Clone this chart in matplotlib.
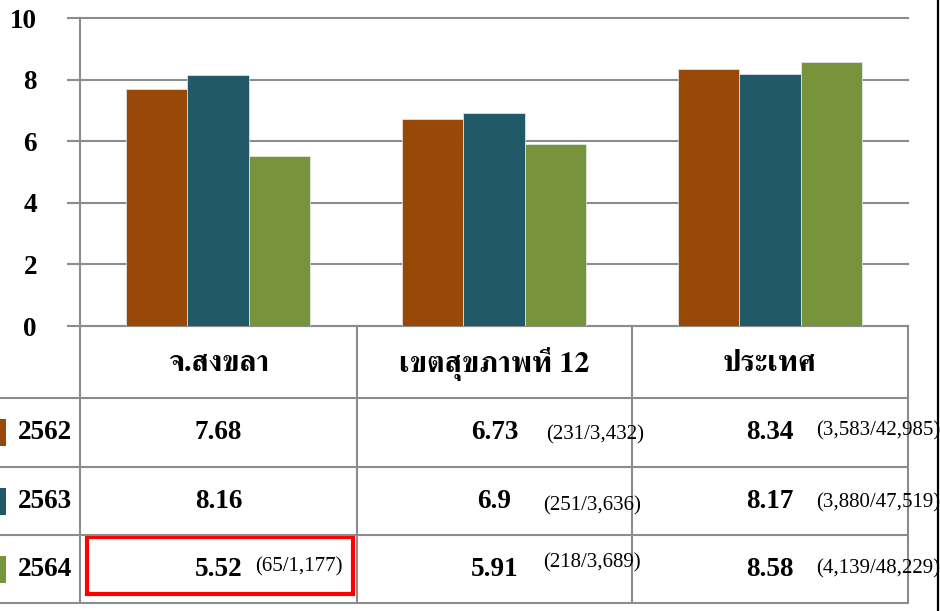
import matplotlib
matplotlib.use("Agg")
import matplotlib.pyplot as plt
from matplotlib import font_manager
from matplotlib.ft2font import FT2Font
from matplotlib.patches import Rectangle

# ---- data -------------------------------------------------------------
categories = ["จ.สงขลา", "เขตสุขภาพที่ 12", "ประเทศ"]
years = ["2562", "2563", "2564"]
rates_2562 = [7.68, 6.73, 8.34]
rates_2563 = [8.16, 6.9, 8.17]
rates_2564 = [5.52, 5.91, 8.58]
counts_2562 = ["", "(231/3,432)", "(3,583/42,985)"]
counts_2563 = ["", "(251/3,636)", "(3,880/47,519)"]
counts_2564 = ["(65/1,177)", "(218/3,689)", "(4,139/48,229)"]
yticks = [0, 2, 4, 6, 8, 10]

series = [rates_2562, rates_2563, rates_2564]
counts = [counts_2562, counts_2563, counts_2564]
colors = ["#984807", "#215968", "#77933C"]
GRID = "#8C8C8C"


def thai_fonts():
    """Names of installed families that cover the Thai block."""
    names = []
    for f in font_manager.fontManager.ttflist:
        try:
            cmap = FT2Font(f.fname).get_charmap()
        except Exception:
            continue
        if 0x0E01 in cmap and f.name not in names:
            names.append(f.name)
    return names


thai_list = thai_fonts()
THAI = "FreeSerif" if "FreeSerif" in thai_list else (thai_list[0] if thai_list else "DejaVu Sans")
SERIF = "Liberation Serif"

W, H = 940, 611
fig = plt.figure(figsize=(W / 100, H / 100), dpi=100)

# ---- bar chart --------------------------------------------------------
L, R, T, B = 80, 908, 18, 326
ax = fig.add_axes([L / W, 1 - B / H, (R - L) / W, (B - T) / H])
bw = 1 / 4.5
x = list(range(len(categories)))
for i, (vals, c) in enumerate(zip(series, colors)):
    ax.bar([xi + (i - 1) * bw for xi in x], vals, width=bw, color=c,
           edgecolor="#E8ECEF", linewidth=0.5, zorder=3)
ax.set_xlim(-0.5, len(categories) - 0.5)
ax.set_ylim(0, 10)
ax.set_yticks(yticks)
ax.set_yticklabels([str(t) for t in yticks], fontfamily=SERIF,
                   fontweight="bold", fontsize=19.5)
ax.set_xticks([])
ax.tick_params(axis="y", length=9.4, width=1.5, color=GRID, pad=21.6)
ax.yaxis.grid(True, color=GRID, linewidth=1.5, zorder=0)
for gl in ax.get_ygridlines():
    gl.set_clip_on(False)
ax.set_axisbelow(True)
for s in ["top", "right"]:
    ax.spines[s].set_visible(False)
for s in ["left", "bottom"]:
    ax.spines[s].set_color(GRID)
    ax.spines[s].set_linewidth(1.5)

# ---- data table -------------------------------------------------------
tab = fig.add_axes([0, 0, 1, 1], facecolor="none")
tab.set_xlim(0, W)
tab.set_ylim(H, 0)
tab.axis("off")

col_edges = [80, 357, 632, 908]
row_edges = [326, 398, 467, 535, 603]
for y in row_edges[1:]:
    tab.plot([0, col_edges[-1]], [y, y], color=GRID, lw=1.5)
for xe in col_edges:
    tab.plot([xe, xe], [row_edges[0], row_edges[-1]], color=GRID, lw=1.5)

col_centers = [(a + b) / 2 for a, b in zip(col_edges[:-1], col_edges[1:])]
head_y = (row_edges[0] + row_edges[1]) / 2 + 2
for cx, name in zip(col_centers, categories):
    tab.text(cx, head_y, name, ha="center", va="center", fontsize=21.5,
             fontfamily=[THAI, SERIF], fontweight="bold")

# horizontal / vertical placement of the bracketed counts in each cell
count_dx = [[37, 52, 46], [37, 49, 46], [37, 49, 46]]
count_dy = [[0, 2, -2], [0, 5, 2], [-2, -6, 0]]
for r, (yr, vals, cnts, c) in enumerate(zip(years, series, counts, colors)):
    cy = (row_edges[r + 1] + row_edges[r + 2]) / 2
    tab.add_patch(Rectangle((0, cy - 13.5), 6, 27, color=c, lw=0))
    tab.text(18, cy, yr, ha="left", va="center", fontfamily=SERIF,
             fontweight="bold", fontsize=19.5)
    for k, (cx, v, cn) in enumerate(zip(col_centers, vals, cnts)):
        tab.text(cx, cy, f"{v:g}", ha="center", va="center",
                 fontfamily=SERIF, fontweight="bold", fontsize=19.5)
        if cn:
            tab.text(cx + count_dx[r][k], cy + count_dy[r][k], cn,
                     ha="left", va="center", fontfamily=SERIF, fontsize=15)

# highlight around the latest provincial figure
tab.add_patch(Rectangle((87, 537), 266, 57, fill=False, ec="#FF0000", lw=3))
tab.plot([938, 938], [0, H], color="black", lw=1.6)

fig.savefig("out.png", dpi=100)
